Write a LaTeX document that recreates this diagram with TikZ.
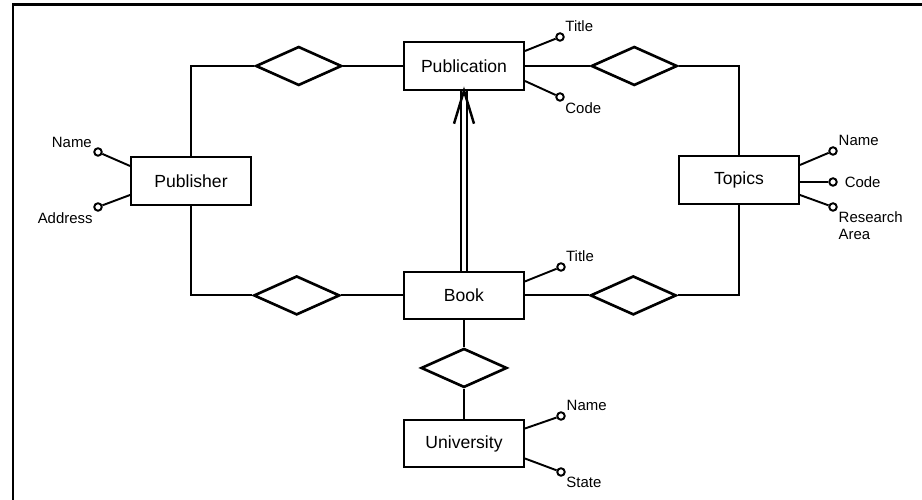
\documentclass[tikz,border=0pt]{standalone}
\usepackage{fontspec}
\setmainfont{Liberation Sans}
\usetikzlibrary{positioning}
\usetikzlibrary{shapes.geometric}

\begin{document}
\begin{tikzpicture}[
	entity/.style={draw, line width=1.1pt, minimum width=2.4cm, minimum height=0.95cm, font=\fontsize{10}{12}\selectfont},
	relation/.style={draw, diamond, line width=1.5pt, minimum width=1.72cm, minimum height=0.78cm, inner sep=0pt},
	attr/.style={draw, circle, line width=1.1pt, minimum size=0.15cm, inner sep=0pt},
	lbl/.style={font=\fontsize{8.5}{9.5}\selectfont, inner sep=1pt},
	edge/.style={line width=1.1pt}
	]
	\useasboundingbox (0,0) rectangle (18.44,10);
	% Frame
	\draw[line width=1.7pt] (0.26,0) -- (0.26,9.9) -- (18.44,9.9);

	% Entities
	\node[entity] (pub) at (9.28,8.68) {Publication};
	\node[entity, below=3.6cm of pub] (book) {Book};
	\node[relation, below=0.54cm of book] (rbu) {};
	\node[entity, below=0.6cm of rbu] (uni) {University};
	\node[entity] (publisher) at (3.82,6.38) {Publisher};
	\node[entity] (topics) at (14.78,6.40) {Topics};

	% Relationships
	\node[relation, left=1.2cm of pub] (rpp) {};
	\node[relation, right=1.3cm of pub] (rpt) {};
	\node[relation, left=1.24cm of book] (rbp) {};
	\node[relation, right=1.28cm of book] (rbt) {};

	% Attributes
	\node[attr, label={[lbl, anchor=south west]45:Title}] (pubtitle) at (11.20,9.26) {};
	\node[attr, label={[lbl, anchor=north west]-45:Code}] (pubcode) at (11.20,8.06) {};
	\node[attr, label={[lbl, anchor=south east]150:Name}] (pubrname) at (1.96,6.96) {};
	\node[attr, label={[lbl, anchor=north east]-135:Address}] (pubraddr) at (1.96,5.86) {};
	\node[attr, label={[lbl, anchor=south west]40:Name}] (topname) at (16.66,6.98) {};
	\node[attr, label={[lbl, anchor=west, xshift=0.1cm]0:Code}] (topcode) at (16.66,6.36) {};
	\node[attr, label={[lbl, anchor=north west, align=left]-40:Research\\Area}] (toparea) at (16.66,5.86) {};
	\node[attr, label={[lbl, anchor=south west]50:Title}] (booktitle) at (11.22,4.66) {};
	\node[attr, label={[lbl, anchor=south west]40:Name}] (uniname) at (11.22,1.68) {};
	\node[attr, label={[lbl, anchor=north west]-45:State}] (unistate) at (11.22,0.56) {};

	% Edges
	\draw[edge] (rpp) -- (pub);
	\draw[edge] (rpp.west) -| (publisher);
	\draw[edge] (rbp) -- (book);
	\draw[edge] (rbp.west) -| (publisher);
	\draw[edge] (pub) -- (rpt);
	\draw[edge] (rpt.east) -| (topics);
	\draw[edge] (book) -- (rbt);
	\draw[edge] (rbt.east) -| (topics);
	\draw[edge] (book) -- (rbu);
	\draw[edge] (rbu) -- (uni);

	% Subset arrow
	\draw[line width=1pt, double, double distance=2.4pt] (book.north) -- (pub.south);
	\draw[edge, line width=1.4pt] ([xshift=-0.2cm, yshift=-0.66cm]pub.south) -- (pub.south) -- ([xshift=0.2cm, yshift=-0.66cm]pub.south);

	% Attribute links
	\draw[edge] ([yshift=0.3cm]pub.east) -- (pubtitle);
	\draw[edge] ([yshift=-0.3cm]pub.east) -- (pubcode);
	\draw[edge] ([yshift=0.3cm]publisher.west) -- (pubrname);
	\draw[edge] ([yshift=-0.28cm]publisher.west) -- (pubraddr);
	\draw[edge] ([yshift=0.3cm]topics.east) -- (topname);
	\draw[edge] (topics.east |- topcode) -- (topcode);
	\draw[edge] ([yshift=-0.3cm]topics.east) -- (toparea);
	\draw[edge] ([yshift=0.28cm]book.east) -- (booktitle);
	\draw[edge] ([yshift=0.3cm]uni.east) -- (uniname);
	\draw[edge] ([yshift=-0.3cm]uni.east) -- (unistate);
\end{tikzpicture}
\end{document}
